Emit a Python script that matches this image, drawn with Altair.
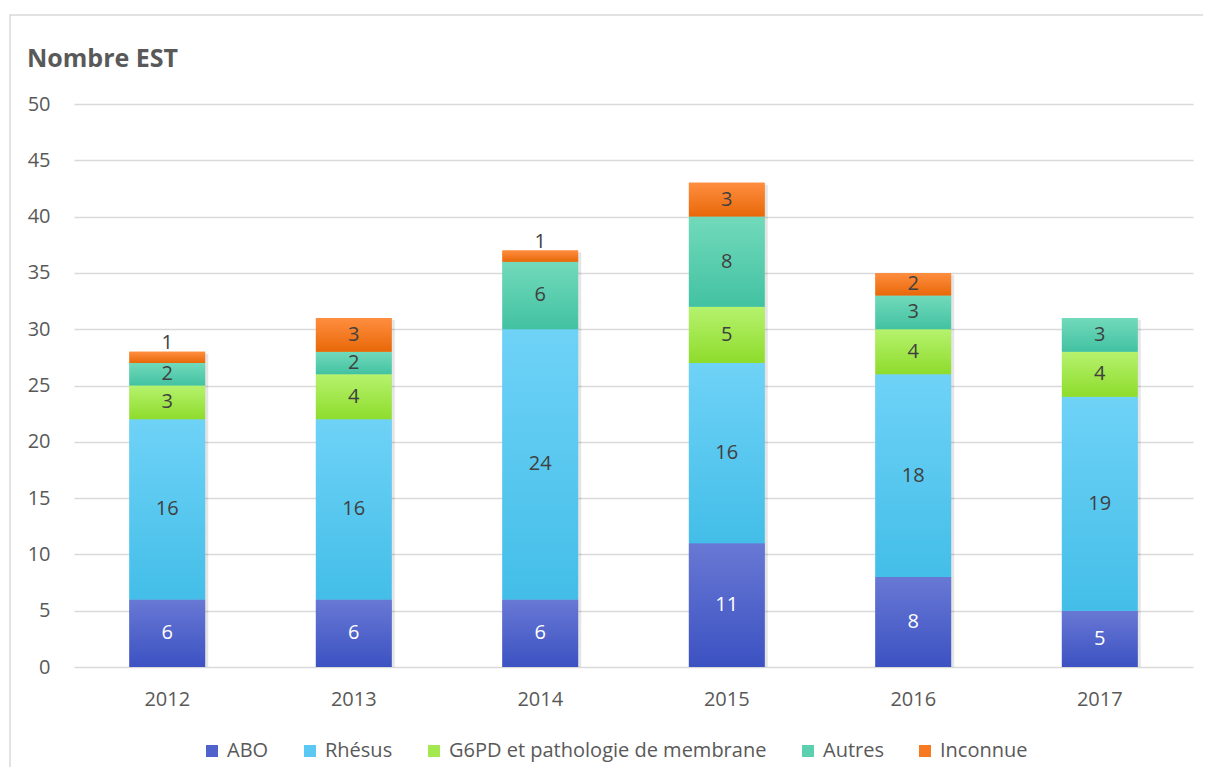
import altair as alt
import pandas as pd

years = ["2012", "2013", "2014", "2015", "2016", "2017"]
series = ["ABO", "Rhésus", "G6PD et pathologie de membrane", "Autres", "Inconnue"]
abo = [6, 6, 6, 11, 8, 5]
rhesus = [16, 16, 24, 16, 18, 19]
g6pd = [3, 4, 0, 5, 4, 4]
autres = [2, 2, 6, 8, 3, 3]
inconnue = [1, 3, 1, 3, 2, 0]

values = [abo, rhesus, g6pd, autres, inconnue]
solid = ["#5063cc", "#5ac8f2", "#a2e84e", "#5ccfae", "#f77a22"]
grad = [
    ("#6878d4", "#3c52c2"),
    ("#6fd2f7", "#43bee8"),
    ("#b6f26e", "#8edc2c"),
    ("#72dabb", "#42c2a2"),
    ("#ff8e40", "#e86808"),
]

rows = []
for si, (s, vals) in enumerate(zip(series, values)):
    for y, v in zip(years, vals):
        if v > 0:
            rows.append({"year": y, "series": s, "value": v, "order": si})
df = pd.DataFrame(rows)

FONT = "Open Sans"
TXT = "#595959"

xenc = alt.X("year:N", scale=alt.Scale(paddingInner=0.594, paddingOuter=0.297),
             axis=alt.Axis(title=None, labelAngle=0, domain=False, ticks=False,
                           labelFontSize=20, labelColor=TXT, labelPadding=22, labelFont=FONT))
yscale = alt.Scale(domain=[0, 50], nice=False)

base = alt.Chart(df).transform_stack(
    stack="value", groupby=["year"], as_=["y0", "y1"],
    sort=[alt.SortField("order", order="ascending")]
)

# shadow
shadow = alt.Chart(df).transform_aggregate(total="sum(value)", groupby=["year"]).mark_bar(
    color="#000000", opacity=0.10, xOffset=2, yOffset=2, width=78
).encode(x=xenc, y=alt.Y("total:Q", scale=yscale), y2=alt.datum(0))

legend_bars = base.mark_bar().encode(
    x=xenc,
    y=alt.Y("y0:Q", scale=yscale,
            axis=alt.Axis(title=None, values=list(range(0, 51, 5)), domain=False, ticks=False,
                          gridColor="#d9d9d9", gridWidth=1.3, labelFontSize=20,
                          labelColor=TXT, labelPadding=24, labelFont=FONT)),
    y2="y1:Q",
    color=alt.Color("series:N", scale=alt.Scale(domain=series, range=solid),
                    legend=alt.Legend(title=None, orient="none", legendX=128, legendY=637,
                                      direction="horizontal", symbolType="square",
                                      symbolSize=144, symbolStrokeWidth=0,
                                      labelFontSize=20, labelColor=TXT, labelFont=FONT,
                                      labelLimit=0,
                                      columnPadding=31, labelOffset=5)),
)

grad_layers = []
for s, (top, bot) in zip(series, grad):
    grad_layers.append(
        base.transform_filter(alt.datum.series == s).mark_bar(
            color=alt.Gradient(gradient="linear",
                               stops=[alt.GradientStop(color=top, offset=0),
                                      alt.GradientStop(color=bot, offset=1)],
                               x1=0, x2=0, y1=0, y2=1)
        ).encode(x=xenc, y=alt.Y("y0:Q", scale=yscale), y2="y1:Q")
    )

labels = base.transform_calculate(
    pos="datum.value <= 1 ? datum.y1 + 0.75 : (datum.y0 + datum.y1) / 2"
).mark_text(fontSize=20, font=FONT, baseline="middle").encode(
    x=xenc,
    y=alt.Y("pos:Q", scale=yscale),
    text="value:Q",
    color=alt.condition(alt.datum.series == "ABO", alt.value("#ffffff"), alt.value("#404040")),
)

one = pd.DataFrame({"t": ["Nombre EST"]})
border = alt.Chart(one).mark_rect(fill=None, stroke="#d9d9d9", strokeWidth=1.5).encode(
    x=alt.value(-64), x2=alt.value(1200), y=alt.value(-89), y2=alt.value(720)
)
title = alt.Chart(one).mark_text(align="left", baseline="middle", fontSize=25,
                                 fontWeight="bold", font=FONT, color=TXT).encode(
    x=alt.value(-47), y=alt.value(-45), text="t:N"
)

chart = alt.layer(border, shadow, legend_bars, *grad_layers, labels, title).properties(
    width=1119, height=563,
    autosize=alt.AutoSizeParams(type="none"),
    padding={"left": 66, "top": 96, "right": 10, "bottom": 100},
).configure(font=FONT).configure_view(stroke=None)

chart.save("out.html", embed_options={"renderer": "svg", "actions": False})
